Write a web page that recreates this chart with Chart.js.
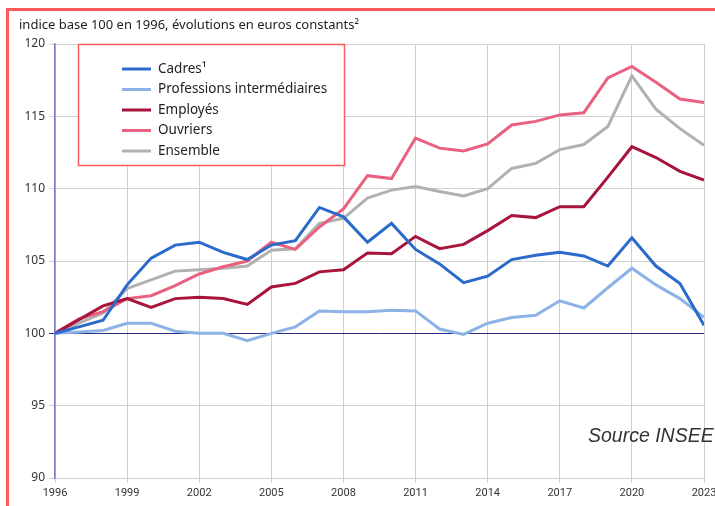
<!DOCTYPE html>
<html>
<head>
<meta charset="utf-8">
<script src="https://cdn.jsdelivr.net/npm/chart.js@4"></script>
<style>
  html, body { margin: 0; padding: 0; background: #fff; overflow: hidden; }
  #wrap { position: relative; width: 715px; height: 506px; }
  #frame { position: absolute; left: 6px; top: 8px; width: 800px; height: 600px;
           border-left: 3px solid #ff5a5c; border-top: 3px solid #ff5a5c; pointer-events: none; }
</style>
</head>
<body>
<div id="wrap">
  <canvas id="myChart" width="715" height="506"></canvas>
  <div id="frame"></div>
</div>
<script>
// années et indices (base 100 en 1996)
const years = [1996, 1997, 1998, 1999, 2000, 2001, 2002, 2003, 2004, 2005,
               2006, 2007, 2008, 2009, 2010, 2011, 2012, 2013, 2014, 2015,
               2016, 2017, 2018, 2019, 2020, 2021, 2022, 2023];

const cadres = [100, 100.45, 100.9, 103.35, 105.2, 106.1, 106.3, 105.6, 105.1, 106.1,
                106.4, 108.7, 108.05, 106.3, 107.6, 105.8, 104.8, 103.5, 103.95, 105.1,
                105.4, 105.6, 105.35, 104.65, 106.6, 104.65, 103.45, 100.55];
const profInter = [100, 100.1, 100.2, 100.7, 100.7, 100.15, 100.0, 100.0, 99.5, 100.0,
                   100.45, 101.55, 101.5, 101.5, 101.6, 101.55, 100.3, 99.93, 100.7, 101.1,
                   101.25, 102.25, 101.75, 103.15, 104.5, 103.35, 102.4, 101.1];
const employes = [100, 100.95, 101.9, 102.4, 101.8, 102.4, 102.5, 102.4, 102.0, 103.2,
                  103.45, 104.25, 104.4, 105.55, 105.5, 106.7, 105.85, 106.15, 107.1, 108.15,
                  108.0, 108.75, 108.75, 110.8, 112.9, 112.15, 111.2, 110.6];
const ouvriers = [100, 101.0, 101.5, 102.4, 102.6, 103.3, 104.1, 104.6, 105.0, 106.3,
                  105.8, 107.35, 108.6, 110.9, 110.7, 113.5, 112.8, 112.6, 113.1, 114.4,
                  114.65, 115.1, 115.25, 117.65, 118.45, 117.35, 116.2, 115.95];
const ensemble = [100, 100.7, 101.4, 103.1, 103.7, 104.3, 104.4, 104.5, 104.65, 105.75,
                  105.85, 107.6, 107.95, 109.35, 109.9, 110.15, 109.8, 109.5, 110.0, 111.4,
                  111.75, 112.7, 113.05, 114.3, 117.8, 115.5, 114.15, 113.0];

const seriesNames = ["Cadres¹", "Professions intermédiaires", "Employés", "Ouvriers", "Ensemble"];
const seriesColors = ["#2a6acb", "#8db3e6", "#a8143b", "#ea6180", "#b1b1b1"];
const seriesValues = [cadres, profInter, employes, ouvriers, ensemble];

const yTicks = [90, 95, 100, 105, 110, 115, 120];

const datasets = seriesValues.map((vals, i) => ({
    label: seriesNames[i],
    data: vals.map((v, j) => ({ x: years[j], y: v })),
    borderColor: seriesColors[i],
    backgroundColor: seriesColors[i],
    borderWidth: 3,
    pointRadius: 0,
    tension: 0
}));

// titre, légende encadrée et source
const extras = {
    id: "extras",
    afterDraw(chart) {
        const ctx = chart.ctx;
        ctx.save();
        ctx.fillStyle = "#222";
        ctx.font = "13px 'Noto Sans'";
        ctx.textBaseline = "middle";
        ctx.textAlign = "left";
        ctx.fillText("indice base 100 en 1996, évolutions en euros constants²", 19, 25);

        // cadre de légende
        ctx.fillStyle = "#fff";
        ctx.fillRect(78, 44, 266, 121);
        ctx.strokeStyle = "#ff5a5c";
        ctx.lineWidth = 1.5;
        ctx.strokeRect(78.5, 44.5, 266, 121);

        ctx.font = "13.5px 'Noto Sans'";
        chart.data.datasets.forEach((ds, i) => {
            const y = 69 + i * 20.5;
            ctx.strokeStyle = ds.borderColor;
            ctx.lineWidth = 3;
            ctx.beginPath();
            ctx.moveTo(122, y);
            ctx.lineTo(151, y);
            ctx.stroke();
            ctx.fillStyle = "#222";
            ctx.fillText(ds.label, 158, y);
        });

        ctx.font = "italic 19.5px 'Liberation Sans'";
        ctx.fillStyle = "#333";
        ctx.textBaseline = "alphabetic";
        ctx.fillText("Source INSEE", 588, 442);
        ctx.restore();
    }
};

const ctxEl = document.getElementById("myChart");
new Chart(ctxEl, {
    type: "line",
    data: { datasets: datasets },
    options: {
        responsive: false,
        animation: false,
        devicePixelRatio: 1,
        layout: { padding: { top: 44, right: 11, left: 0, bottom: 0 } },
        plugins: { legend: { display: false }, tooltip: { enabled: false } },
        scales: {
            x: {
                type: "linear",
                min: 1996,
                max: 2023,
                afterFit(scale) {
                    scale.height = 28;
                    scale.paddingLeft = 0;
                    scale.paddingRight = 0;
                },
                ticks: {
                    stepSize: 3,
                    color: "#333",
                    font: { family: "Roboto", size: 11 },
                    padding: 4,
                    maxRotation: 0,
                    callback: v => String(v)
                },
                grid: { color: "#cfcfcf", lineWidth: 1, tickLength: 5 },
                border: { color: "#cfcfcf" }
            },
            y: {
                min: 90,
                max: 120,
                afterFit(scale) { scale.width = 55; },
                afterBuildTicks(scale) { scale.ticks = yTicks.map(v => ({ value: v })); },
                ticks: {
                    color: "#333",
                    font: { family: "Noto Sans", size: 12 },
                    padding: 4
                },
                grid: {
                    color: c => (c.tick && c.tick.value === 100 ? "#2b2b86" : "#d0d0d0"),
                    lineWidth: 1,
                    tickLength: 6
                },
                border: { color: "#7a78c4", width: 1.5 }
            }
        }
    },
    plugins: [extras]
});
</script>
</body>
</html>
